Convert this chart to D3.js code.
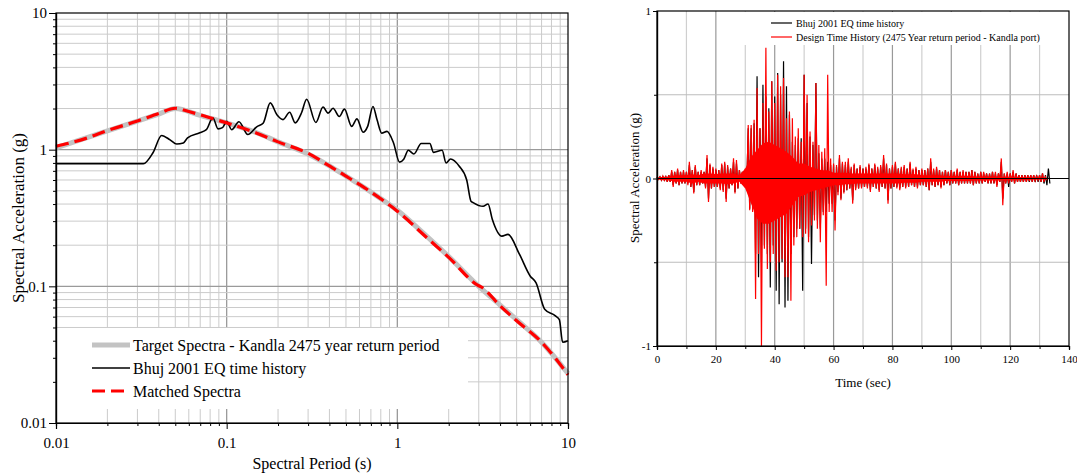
<!DOCTYPE html>
<html>
<head>
<meta charset="utf-8">
<script src="https://cdn.jsdelivr.net/npm/d3@7"></script>
<style>
  body { margin: 0; background: #fff; }
  svg { display: block; font-family: "Liberation Serif", "Times New Roman", serif; }
</style>
</head>
<body>
<svg id="chart" width="1077" height="475"></svg>
<script>
// ---- left panel: response spectra (period s, Sa g) ----
const targetT  = [0.01, 0.02, 0.03, 0.04, 0.05, 0.07, 0.1, 0.15, 0.2, 0.3, 0.4, 0.5, 0.7, 1, 1.5, 2, 3, 4, 5, 7, 10];
const targetSA = [1.03, 1.37, 1.62, 1.82, 2.0, 1.78, 1.57, 1.33, 1.14, 0.93, 0.76, 0.64, 0.49, 0.36, 0.23, 0.165, 0.10, 0.073, 0.057, 0.039, 0.023];

const matchedT  = [0.01, 0.015, 0.02, 0.03, 0.04, 0.05, 0.06, 0.07, 0.085, 0.1, 0.15, 0.2, 0.3, 0.4, 0.5, 0.7, 1, 1.5, 2, 3, 3.1, 4, 5, 7, 8.4, 10];
const matchedSA = [1.06, 1.21, 1.38, 1.62, 1.84, 2.01, 1.90, 1.80, 1.67, 1.57, 1.32, 1.14, 0.94, 0.76, 0.64, 0.49, 0.355, 0.225, 0.163, 0.101, 0.099, 0.072, 0.056, 0.039, 0.030, 0.0225];

const bhujT = [0.01, 0.02, 0.0325, 0.037, 0.0416, 0.0466, 0.051, 0.0557, 0.059, 0.0696, 0.076, 0.083, 0.089, 0.0945, 0.1, 0.107, 0.118, 0.133, 0.15, 0.164, 0.18, 0.197, 0.214, 0.234, 0.252, 0.275, 0.294, 0.333, 0.367, 0.393, 0.42, 0.457, 0.49, 0.54, 0.58, 0.63, 0.67, 0.72, 0.76, 0.81, 0.87, 0.95, 1.03, 1.09, 1.16, 1.25, 1.38, 1.55, 1.63, 1.83, 1.93, 2.05, 2.3, 2.55, 2.7, 2.78, 3.18, 3.4, 3.6, 4.1, 4.45, 5.2, 6.0, 6.5, 7.3, 8.4, 8.9, 9.3, 10];
const bhujSA = [0.79, 0.79, 0.79, 0.95, 1.27, 1.18, 1.1, 1.12, 1.22, 1.33, 1.4, 1.71, 1.42, 1.45, 1.61, 1.40, 1.6, 1.29, 1.47, 1.57, 2.2, 1.8, 1.66, 1.88, 1.57, 1.87, 2.34, 1.58, 2.05, 1.85, 2.01, 1.75, 1.98, 1.48, 1.68, 1.34, 1.48, 2.07, 1.66, 1.32, 1.36, 1.12, 0.81, 0.85, 0.99, 0.93, 1.11, 1.11, 0.955, 0.99, 0.80, 0.855, 0.76, 0.60, 0.42, 0.41, 0.385, 0.40, 0.31, 0.233, 0.24, 0.171, 0.119, 0.106, 0.068, 0.061, 0.057, 0.039, 0.040];

const specTicks = [0.01, 0.1, 1, 10];
const legendLeft = ["Target Spectra - Kandla 2475 year return period", "Bhuj 2001 EQ time history", "Matched Spectra"];

// ---- right panel: acceleration time histories, per-second peak (hi) and trough (lo) in g ----
const redHi = [
  0.01, 0.01, 0.015, 0.01, 0.02, 0.05, 0.04, 0.06, 0.04, 0.05,
  0.04, 0.10, 0.05, 0.08, 0.04, 0.05, 0.04, 0.14, 0.09, 0.07,
  0.06, 0.05, 0.09, 0.10, 0.08, 0.06, 0.12, 0.11, 0.05, 0.04,
  0.06, 0.32, 0.32, 0.35, 0.54, 0.30, 0.45, 0.78, 0.40, 0.58,
  0.45, 0.62, 0.55, 0.60, 0.36, 0.40, 0.36, 0.25, 0.30, 0.22,
  0.62, 0.50, 0.28, 0.22, 0.57, 0.20, 0.16, 0.18, 0.62, 0.12,
  0.09, 0.08, 0.14, 0.10, 0.10, 0.12, 0.07, 0.09, 0.06, 0.08,
  0.06, 0.07, 0.09, 0.06, 0.09, 0.07, 0.08, 0.14, 0.09, 0.06,
  0.08, 0.10, 0.06, 0.07, 0.08, 0.06, 0.10, 0.06, 0.07, 0.05,
  0.06, 0.05, 0.06, 0.12, 0.06, 0.07, 0.05, 0.04, 0.05, 0.04,
  0.05, 0.04, 0.06, 0.04, 0.05, 0.04, 0.04, 0.05, 0.04, 0.03,
  0.04, 0.04, 0.03, 0.03, 0.04, 0.04, 0.03, 0.12, 0.03, 0.04,
  0.03, 0.05, 0.03, 0.02, 0.02, 0.02, 0.02, 0.02, 0.02, 0.015,
  0.02, 0.03, 0.01];
const redLo = [
  -0.005, -0.01, -0.01, -0.02, -0.02, -0.05, -0.03, -0.04, -0.03, -0.03,
  -0.04, -0.05, -0.09, -0.04, -0.04, -0.03, -0.06, -0.14, -0.06, -0.05,
  -0.05, -0.07, -0.08, -0.14, -0.06, -0.04, -0.09, -0.06, -0.03, -0.04,
  -0.05, -0.19, -0.20, -0.72, -0.45, -1.0, -0.42, -0.54, -0.50, -0.45,
  -0.55, -0.50, -0.48, -0.59, -0.59, -0.73, -0.40, -0.35, -0.30, -0.35,
  -0.33, -0.38, -0.28, -0.25, -0.30, -0.38, -0.22, -0.64, -0.20, -0.20,
  -0.31, -0.10, -0.13, -0.09, -0.07, -0.06, -0.15, -0.07, -0.06, -0.06,
  -0.05, -0.06, -0.08, -0.05, -0.06, -0.08, -0.05, -0.06, -0.15, -0.06,
  -0.05, -0.06, -0.07, -0.05, -0.06, -0.05, -0.04, -0.05, -0.06, -0.04,
  -0.04, -0.05, -0.07, -0.04, -0.05, -0.04, -0.06, -0.04, -0.03, -0.04,
  -0.03, -0.03, -0.04, -0.03, -0.03, -0.03, -0.03, -0.04, -0.03, -0.03,
  -0.03, -0.02, -0.03, -0.03, -0.03, -0.05, -0.02, -0.16, -0.03, -0.03,
  -0.02, -0.03, -0.02, -0.02, -0.02, -0.02, -0.015, -0.02, -0.015, -0.01,
  -0.02, -0.02, -0.01];
const blkHi = [
  0.01, 0.01, 0.01, 0.01, 0.02, 0.04, 0.04, 0.05, 0.04, 0.04,
  0.04, 0.08, 0.05, 0.07, 0.04, 0.04, 0.04, 0.12, 0.08, 0.06,
  0.05, 0.05, 0.08, 0.09, 0.07, 0.06, 0.10, 0.09, 0.05, 0.04,
  0.05, 0.30, 0.30, 0.33, 0.61, 0.30, 0.56, 0.49, 0.42, 0.58,
  0.49, 0.63, 0.50, 0.70, 0.55, 0.38, 0.22, 0.20, 0.24, 0.24,
  0.62, 0.45, 0.25, 0.20, 0.57, 0.15, 0.12, 0.12, 0.10, 0.08,
  0.08, 0.07, 0.12, 0.09, 0.08, 0.10, 0.06, 0.08, 0.06, 0.07,
  0.06, 0.06, 0.08, 0.06, 0.08, 0.06, 0.07, 0.12, 0.08, 0.06,
  0.07, 0.09, 0.06, 0.06, 0.07, 0.06, 0.09, 0.05, 0.06, 0.05,
  0.05, 0.05, 0.06, 0.10, 0.05, 0.06, 0.05, 0.04, 0.05, 0.04,
  0.05, 0.04, 0.05, 0.04, 0.04, 0.04, 0.04, 0.05, 0.04, 0.03,
  0.04, 0.03, 0.03, 0.03, 0.04, 0.03, 0.03, 0.10, 0.03, 0.03,
  0.03, 0.04, 0.03, 0.02, 0.02, 0.02, 0.02, 0.02, 0.02, 0.02,
  0.02, 0.03, 0.02, 0.06];
const blkLo = [
  -0.005, -0.01, -0.01, -0.02, -0.02, -0.04, -0.03, -0.04, -0.03, -0.03,
  -0.03, -0.05, -0.08, -0.04, -0.04, -0.03, -0.05, -0.12, -0.06, -0.05,
  -0.05, -0.06, -0.07, -0.12, -0.06, -0.04, -0.08, -0.06, -0.03, -0.04,
  -0.04, -0.18, -0.18, -0.45, -0.59, -0.50, -0.40, -0.45, -0.65, -0.40,
  -0.67, -0.75, -0.50, -0.77, -0.73, -0.45, -0.35, -0.30, -0.30, -0.67,
  -0.30, -0.35, -0.51, -0.22, -0.25, -0.30, -0.20, -0.20, -0.15, -0.15,
  -0.25, -0.08, -0.12, -0.08, -0.07, -0.06, -0.13, -0.06, -0.06, -0.05,
  -0.05, -0.05, -0.07, -0.05, -0.06, -0.07, -0.05, -0.06, -0.13, -0.06,
  -0.05, -0.05, -0.06, -0.05, -0.05, -0.05, -0.04, -0.05, -0.05, -0.04,
  -0.04, -0.05, -0.07, -0.04, -0.05, -0.04, -0.05, -0.04, -0.03, -0.04,
  -0.03, -0.03, -0.04, -0.03, -0.03, -0.03, -0.03, -0.04, -0.03, -0.03,
  -0.03, -0.02, -0.03, -0.03, -0.03, -0.04, -0.02, -0.12, -0.03, -0.05,
  -0.02, -0.03, -0.02, -0.02, -0.02, -0.02, -0.02, -0.02, -0.02, -0.02,
  -0.02, -0.03, -0.04, -0.03];

// solid band of the design record, every 2 s (where the trace is too dense to separate)
const bodyHi = [
  0.005, 0.01, 0.01, 0.02, 0.02, 0.02, 0.025, 0.02, 0.03, 0.03,
  0.025, 0.03, 0.03, 0.03, 0.02, 0.06, 0.13, 0.17, 0.21, 0.22,
  0.20, 0.18, 0.16, 0.13, 0.09, 0.09, 0.07, 0.06, 0.05, 0.05,
  0.035, 0.035, 0.035, 0.03, 0.03, 0.03, 0.03, 0.03, 0.03, 0.03,
  0.03, 0.03, 0.025, 0.025, 0.025, 0.02, 0.02, 0.02, 0.02, 0.015,
  0.015, 0.015, 0.015, 0.015, 0.012, 0.012, 0.012, 0.012, 0.012, 0.01,
  0.01, 0.01, 0.008, 0.008, 0.006, 0.006, 0.004];
const bodyLo = [
  -0.005, -0.01, -0.01, -0.02, -0.02, -0.02, -0.03, -0.02, -0.03, -0.03,
  -0.03, -0.03, -0.035, -0.03, -0.02, -0.06, -0.15, -0.24, -0.27, -0.27,
  -0.25, -0.23, -0.21, -0.16, -0.11, -0.10, -0.08, -0.07, -0.06, -0.05,
  -0.04, -0.04, -0.035, -0.035, -0.03, -0.03, -0.03, -0.03, -0.03, -0.03,
  -0.03, -0.03, -0.025, -0.025, -0.025, -0.02, -0.02, -0.02, -0.02, -0.015,
  -0.015, -0.015, -0.015, -0.015, -0.012, -0.012, -0.012, -0.012, -0.012, -0.01,
  -0.01, -0.01, -0.008, -0.008, -0.006, -0.006, -0.004];

const timeTicks = [0, 20, 40, 60, 80, 100, 120, 140];
const accTicks = [-1, 0, 1];
const legendRight = ["Bhuj 2001 EQ time history", "Design Time History (2475 Year return period - Kandla port)"];

const svg = d3.select("#chart");
svg.append("rect").attr("width", 1077).attr("height", 475).attr("fill", "#fff");

// ================= left panel =================
const sx = d3.scaleLog().domain([0.01, 10]).range([56, 568]);
const sy = d3.scaleLog().domain([0.01, 10]).range([423, 13]);

// 2..9 in every decade, plus the decades
const logMinor = [];
[0.01, 0.1, 1].forEach(d => d3.range(2, 10).forEach(k => logMinor.push(+(d * k).toPrecision(2))));
const inner = logMinor.concat([0.1, 1]);
const isDecade = v => specTicks.includes(v);

const L = svg.append("g");
L.append("g").selectAll("line").data(inner).join("line")
    .attr("x1", d => sx(d)).attr("x2", d => sx(d))
    .attr("y1", sy(10)).attr("y2", sy(0.01))
    .attr("stroke", d => isDecade(d) ? "#9a9a9a" : "#cbcbcb")
    .attr("stroke-width", d => isDecade(d) ? 1.3 : 1);
L.append("g").selectAll("line").data(inner).join("line")
    .attr("y1", d => sy(d)).attr("y2", d => sy(d))
    .attr("x1", sx(0.01)).attr("x2", sx(10))
    .attr("stroke", d => isDecade(d) ? "#9a9a9a" : "#cbcbcb")
    .attr("stroke-width", d => isDecade(d) ? 1.3 : 1);

// legend background hides the grid under it
L.append("rect").attr("x", sx(0.01) + 1).attr("y", 328).attr("width", 411).attr("height", 81).attr("fill", "#fff");

const spec = d3.line().x(d => sx(d[0])).y(d => sy(d[1])).curve(d3.curveMonotoneX);
L.append("path").attr("d", spec(d3.zip(targetT, targetSA)))
    .attr("fill", "none").attr("stroke", "#c3c3c3").attr("stroke-width", 5);
L.append("path").attr("d", spec(d3.zip(bhujT, bhujSA)))
    .attr("fill", "none").attr("stroke", "#000").attr("stroke-width", 1.6);
L.append("path").attr("d", spec(d3.zip(matchedT, matchedSA)))
    .attr("fill", "none").attr("stroke", "#ff0000").attr("stroke-width", 3.2)
    .attr("stroke-dasharray", "13,6");

L.append("rect").attr("x", sx(0.01)).attr("y", sy(10))
    .attr("width", sx(10) - sx(0.01)).attr("height", sy(0.01) - sy(10))
    .attr("fill", "none").attr("stroke", "#000").attr("stroke-width", 1.2);

// axes: labelled decades + short minor ticks
const fmt = d => String(d);
L.append("g").attr("transform", `translate(${sx(0.01)},0)`)
    .call(d3.axisLeft(sy).tickValues(specTicks).tickFormat(fmt).tickSize(7).tickPadding(2))
    .call(g => g.selectAll("text").attr("font-size", 15).attr("font-family", "Liberation Serif"));
L.append("g").attr("transform", `translate(${sx(0.01)},0)`)
    .call(d3.axisLeft(sy).tickValues(logMinor).tickFormat("").tickSize(3));
L.append("g").attr("transform", `translate(0,${sy(0.01)})`)
    .call(d3.axisBottom(sx).tickValues(specTicks).tickFormat(fmt).tickSize(6).tickPadding(8))
    .call(g => g.selectAll("text").attr("font-size", 15).attr("font-family", "Liberation Serif"));
L.append("g").attr("transform", `translate(0,${sy(0.01)})`)
    .call(d3.axisBottom(sx).tickValues(logMinor).tickFormat("").tickSize(3));
L.selectAll(".domain").attr("stroke", "#000").attr("stroke-width", 1.2);

L.append("text").attr("x", 312).attr("y", 469).attr("text-anchor", "middle")
    .attr("font-size", 16).text("Spectral Period (s)");
L.append("text").attr("transform", "translate(24,218) rotate(-90)").attr("text-anchor", "middle")
    .attr("font-size", 17).text("Spectral Acceleration (g)");

// legend
const legL = L.append("g").attr("transform", "translate(92,345)");
legL.selectAll("text").data(legendLeft).join("text")
    .attr("x", 41).attr("y", (d, i) => i * 23).attr("dy", "0.35em")
    .attr("font-size", 16).text(d => d);
legL.append("line").attr("x1", 0).attr("x2", 38).attr("y1", 0).attr("y2", 0)
    .attr("stroke", "#c3c3c3").attr("stroke-width", 5);
legL.append("line").attr("x1", 0).attr("x2", 38).attr("y1", 23).attr("y2", 23)
    .attr("stroke", "#000").attr("stroke-width", 1.6);
legL.append("line").attr("x1", 0).attr("x2", 38).attr("y1", 46).attr("y2", 46)
    .attr("stroke", "#ff0000").attr("stroke-width", 3.2).attr("stroke-dasharray", "13,6");

// ================= right panel =================
const tx = d3.scaleLinear().domain([0, 140]).range([657, 1069]);
const ty = d3.scaleLinear().domain([-1, 1]).range([346, 11]);

const R = svg.append("g");
const vGrid = d3.range(10, 140, 10);
R.append("g").selectAll("line").data(vGrid).join("line")
    .attr("x1", d => tx(d)).attr("x2", d => tx(d)).attr("y1", ty(1)).attr("y2", ty(-1))
    .attr("stroke", d => d % 20 === 0 ? "#999" : "#cfcfcf").attr("stroke-width", 1.2);
R.append("g").selectAll("line").data([-0.5, 0.5]).join("line")
    .attr("y1", d => ty(d)).attr("y2", d => ty(d)).attr("x1", tx(0)).attr("x2", tx(140))
    .attr("stroke", "#bdbdbd").attr("stroke-width", 1.2);

R.append("rect").attr("x", 728).attr("y", 12).attr("width", 318).attr("height", 33).attr("fill", "#fff");

// peak then trough in every one-second bin
const zig = (hi, lo) => hi.flatMap((h, i) => [[i, h], [i + 0.5, lo[i]]]);
const acc = d3.line().x(d => tx(d[0])).y(d => ty(d[1]));
R.append("path").attr("d", acc(zig(blkHi, blkLo)))
    .attr("fill", "none").attr("stroke", "#000").attr("stroke-width", 1.2);
R.append("path")
    .attr("d", d3.area().x((d, i) => tx(i * 2)).y0((d, i) => ty(bodyLo[i])).y1(d => ty(d))(bodyHi))
    .attr("fill", "#ff0000");
R.append("path").attr("d", acc(zig(redHi, redLo)))
    .attr("fill", "none").attr("stroke", "#ff0000").attr("stroke-width", 1.2);

R.append("line").attr("x1", tx(0)).attr("x2", tx(140)).attr("y1", ty(0)).attr("y2", ty(0))
    .attr("stroke", "#000").attr("stroke-width", 1.2);

R.append("rect").attr("x", tx(0)).attr("y", ty(1))
    .attr("width", tx(140) - tx(0)).attr("height", ty(-1) - ty(1))
    .attr("fill", "none").attr("stroke", "#000").attr("stroke-width", 1.2);

R.append("g").attr("transform", `translate(${tx(0)},0)`)
    .call(d3.axisLeft(ty).tickValues(accTicks).tickFormat(fmt).tickSize(4).tickPadding(2))
    .call(g => g.selectAll("text").attr("font-size", 11).attr("font-family", "Liberation Serif"));
R.append("g").attr("transform", `translate(${tx(0)},0)`)
    .call(d3.axisLeft(ty).tickValues([-0.5, 0.5]).tickFormat("").tickSize(3));
R.append("g").attr("transform", `translate(0,${ty(-1)})`)
    .call(d3.axisBottom(tx).tickValues(timeTicks).tickFormat(fmt).tickSize(4).tickPadding(5))
    .call(g => g.selectAll("text").attr("font-size", 11).attr("font-family", "Liberation Serif"));
R.append("g").attr("transform", `translate(0,${ty(-1)})`)
    .call(d3.axisBottom(tx).tickValues(d3.range(10, 140, 20)).tickFormat("").tickSize(3));
R.selectAll(".domain").attr("stroke", "#000").attr("stroke-width", 1.2);

R.append("text").attr("x", 863).attr("y", 387).attr("text-anchor", "middle")
    .attr("font-size", 13).text("Time (sec)");
R.append("text").attr("transform", "translate(639,178) rotate(-90)").attr("text-anchor", "middle")
    .attr("font-size", 13).text("Spectral Acceleration (g)");

const legR = R.append("g").attr("transform", "translate(771,23)");
legR.selectAll("text").data(legendRight).join("text")
    .attr("x", 25).attr("y", (d, i) => i * 14).attr("dy", "0.35em")
    .attr("font-size", 10).text(d => d);
legR.selectAll("line").data(["#000", "#ff0000"]).join("line")
    .attr("x1", 0).attr("x2", 21).attr("y1", (d, i) => i * 14).attr("y2", (d, i) => i * 14)
    .attr("stroke", d => d).attr("stroke-width", 1.2);
</script>
</body>
</html>
